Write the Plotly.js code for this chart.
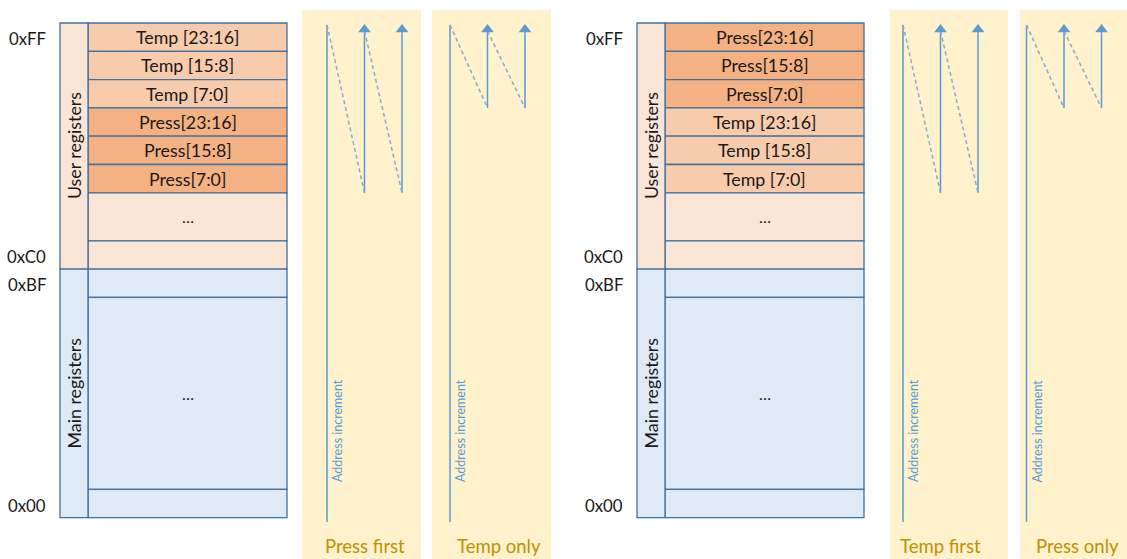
<!DOCTYPE html>
<html><head><meta charset="utf-8">
<script src="https://cdn.plot.ly/plotly-3.0.1.min.js"></script>
<style>html,body{margin:0;padding:0;background:#fff;overflow:hidden}</style>
</head><body><div id="chart" style="width:1127px;height:559px"></div>
<script>
// ---- data ----
const addrLabels = ['0xFF', '0xC0', '0xBF', '0x00'];
const groupLabels = ['User registers', 'Main registers'];
const leftRegs = ['Temp [23:16]', 'Temp [15:8]', 'Temp [7:0]', 'Press[23:16]', 'Press[15:8]', 'Press[7:0]'];
const leftKinds = ['temp', 'temp', 'temp', 'press', 'press', 'press'];
const rightRegs = ['Press[23:16]', 'Press[15:8]', 'Press[7:0]', 'Temp [23:16]', 'Temp [15:8]', 'Temp [7:0]'];
const rightKinds = ['press', 'press', 'press', 'temp', 'temp', 'temp'];
const leftModes = ['Press first', 'Temp only'];
const rightModes = ['Temp first', 'Press only'];
const modeRegCount = [6, 3];
const burstColumns = 3;
const fillerText = '…';
const incrementText = 'Address increment';

// ---- geometry / style ----
const G = {
  top: 23, row: 28.3, userEll: 48, mainEll: 192,
  labX0: 60, labX1: 88, cellX1: 287, addrX: 48,
  panelTop: 10, panelBottom: 560, arrowTop: 25, lineBottom: 522, labelY: 546
};
const diagrams = [
  { dx: 0, regs: leftRegs, kinds: leftKinds, modes: leftModes,
    panels: [{x0: 302, x1: 421, line: 327, step: 37.5, labelX: 365},
             {x0: 432, x1: 551, line: 450, step: 37.5, labelX: 499}] },
  { dx: 577, regs: rightRegs, kinds: rightKinds, modes: rightModes,
    panels: [{x0: 890, x1: 1008, line: 903, step: 37.5, labelX: 940},
             {x0: 1020, x1: 1140, line: 1026.5, step: 37.5, labelX: 1077}] }
];
const C = {
  temp: '#F8CBAD', press: '#F4B183', user: '#FBE5D6', main: '#DEEBF7',
  border: '#41719C', panel: '#FFF2CC', arrow: '#5B9BD5', dash: '#8AAACB', gold: '#BF9000', text: '#1a1a1a'
};
const FONT = 'Lato, "Open Sans", sans-serif';

const shapes = [], annotations = [];
const solidX = [], solidY = [], dashX = [], dashY = [], headX = [], headY = [];
function rect(x0, y0, x1, y1, fill, line) {
  shapes.push({type: 'rect', xref: 'x', yref: 'y', x0, y0, x1, y1, layer: 'below',
    fillcolor: fill, line: line ? {color: line, width: 1.3} : {width: 0}});
}
function text(x, y, t, size, color, angle, family) {
  annotations.push({x, y, xref: 'x', yref: 'y', text: t, showarrow: false,
    textangle: angle || 0, font: {family: family || FONT, size, color: color || C.text},
    xanchor: 'center', yanchor: 'middle'});
}

diagrams.forEach(d => {
  const X0 = G.labX0 + d.dx, X1 = G.labX1 + d.dx, X2 = G.cellX1 + d.dx;
  // panels first (below)
  d.panels.forEach((p, i) => {
    rect(p.x0, G.panelTop, p.x1, G.panelBottom, C.panel, null);
    const n = modeRegCount[i];
    const depth = G.top + n * G.row;
    // long address line
    solidX.push(p.line, p.line, null); solidY.push(G.arrowTop, G.lineBottom, null);
    text(p.line + 10, 431, incrementText, 12.5, C.arrow, -90);
    let prevX = p.line, prevTop = G.arrowTop;
    for (let k = 1; k < burstColumns; k++) {
      const ax = p.line + k * p.step;
      dashX.push(prevX, ax, null); dashY.push(prevTop, depth, null);
      solidX.push(ax, ax, null); solidY.push(depth, G.arrowTop + 5, null);
      headX.push(ax); headY.push(G.arrowTop + 4.5);
      prevX = ax; prevTop = G.arrowTop + 6;
    }
    text(p.labelX, G.labelY, d.modes[i], 18.5, C.gold, 0);
  });
  // user registers block
  let y = G.top;
  const userTop = y;
  d.regs.forEach((r, i) => {
    rect(X1, y, X2, y + G.row, C[d.kinds[i]], C.border);
    text((X1 + X2) / 2, y + G.row / 2, r, 17.8, C.text, 0);
    y += G.row;
  });
  rect(X1, y, X2, y + G.userEll, C.user, C.border);
  text((X1 + X2) / 2, y + G.userEll / 2, fillerText, 16, C.text, 0);
  y += G.userEll;
  rect(X1, y, X2, y + G.row, C.user, C.border);
  y += G.row;
  const userBot = y;
  rect(X0, userTop, X1, userBot, C.user, C.border);
  text((X0 + X1) / 2, (userTop + userBot) / 2, groupLabels[0], 17.8, C.text, -90);
  // main registers block
  const mainTop = y;
  rect(X1, y, X2, y + G.row, C.main, C.border); y += G.row;
  rect(X1, y, X2, y + G.mainEll, C.main, C.border);
  text((X1 + X2) / 2, y + G.mainEll / 2, fillerText, 16, C.text, 0);
  y += G.mainEll;
  rect(X1, y, X2, y + G.row, C.main, C.border); y += G.row;
  const mainBot = y;
  rect(X0, mainTop, X1, mainBot, C.main, C.border);
  text((X0 + X1) / 2, (mainTop + mainBot) / 2, groupLabels[1], 17.8, C.text, -90);
  // address labels
  const addrY = [userTop + G.row / 2, userBot - G.row / 2, mainTop + G.row / 2, mainBot - G.row / 2];
  addrLabels.forEach((a, i) => {
    annotations.push({x: G.addrX + d.dx, y: addrY[i] + 1.5, xref: 'x', yref: 'y', text: a, showarrow: false,
      font: {family: FONT, size: 16.8, color: C.text}, xanchor: 'right', yanchor: 'middle'});
  });
});

const traces = [
  {x: solidX, y: solidY, mode: 'lines', line: {color: C.arrow, width: 1.5}, hoverinfo: 'skip'},
  {x: dashX, y: dashY, mode: 'lines', line: {color: C.dash, width: 1.5, dash: '4px,3px'}, hoverinfo: 'skip'},
  {x: headX, y: headY, mode: 'markers', marker: {symbol: 'triangle-up', size: 11, color: C.arrow}, hoverinfo: 'skip'}
];
const layout = {
  width: 1127, height: 559, margin: {l: 0, r: 0, t: 0, b: 0},
  paper_bgcolor: '#fff', plot_bgcolor: '#fff', showlegend: false,
  xaxis: {range: [0, 1127], visible: false, fixedrange: true},
  yaxis: {range: [559, 0], visible: false, fixedrange: true},
  shapes, annotations
};
Plotly.newPlot('chart', traces, layout, {displayModeBar: false, staticPlot: true});
</script></body></html>
